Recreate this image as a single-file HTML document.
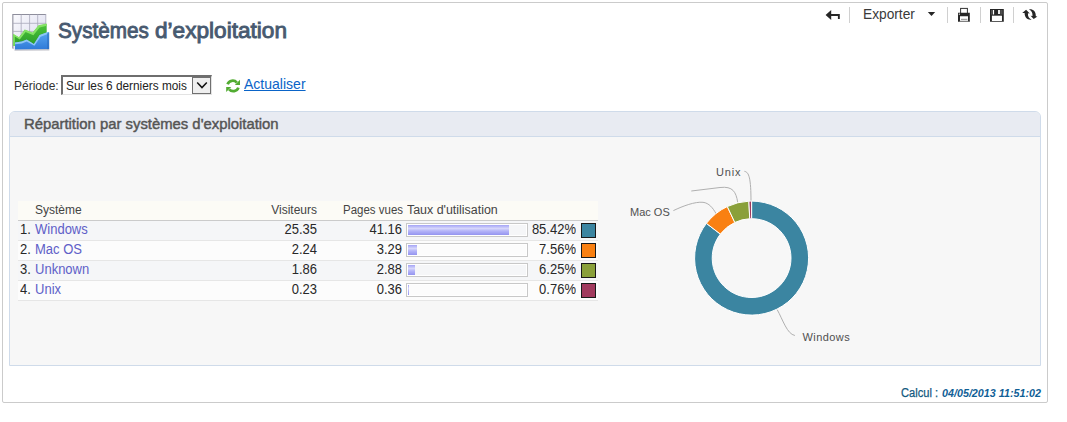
<!DOCTYPE html>
<html><head><meta charset="utf-8">
<style>
html,body{margin:0;padding:0;background:#fff;width:1067px;height:422px;overflow:hidden;font-family:"Liberation Sans",sans-serif;}
.a{position:absolute;}
#outer{left:2px;top:2px;width:1044px;height:399px;border:1px solid #cbcbcb;border-radius:2px;box-sizing:content-box;}
#title,#title2{left:58px;top:18px;font-size:22px;font-weight:normal;-webkit-text-stroke:0.9px #485a70;color:#485a70;white-space:nowrap;line-height:26px;transform-origin:0 0;}
#title{transform:scaleX(0.94);}
#title2{left:155px;transform:scaleX(1.028);}
.tb{font-size:13.7px;color:#3a3a3a;white-space:nowrap;}
.sep{width:1px;background:#d0d0d0;top:7px;height:16px;}
#periode{left:14px;top:79px;font-size:12px;color:#333;line-height:14px;}
#sel{left:61px;top:75px;width:151px;height:20px;box-sizing:border-box;border-top:2px solid #6e6e6e;border-left:2px solid #6e6e6e;border-right:1px solid #e3e3e3;border-bottom:1px solid #e3e3e3;background:#fff;}
#seltxt{left:66px;top:79px;font-size:12px;color:#222;line-height:14px;white-space:nowrap;transform:scaleX(0.985);transform-origin:0 0;}
#selbtn{left:192px;top:77px;width:19px;height:17px;box-sizing:border-box;border:1px solid #707070;background:#efefef;}
#act{left:244px;top:75px;font-size:15px;color:#0a64c8;text-decoration:underline;line-height:17px;white-space:nowrap;transform:scaleX(0.935);transform-origin:0 0;}
#panel{left:9px;top:111px;width:1032px;height:255px;box-sizing:border-box;border:1px solid #cfdbea;border-radius:6px 6px 0 0;background:#f7f7f7;overflow:hidden;}
#phead{left:0;top:0;width:100%;height:24px;background:#e8ebf2;border-bottom:1px solid #cfdbea;}
#ptitle{left:24px;top:115px;font-size:15px;color:#555;-webkit-text-stroke:0.45px #555;white-space:nowrap;line-height:18px;transform:scaleX(0.99);transform-origin:0 0;}
#calc{left:901px;top:386px;font-size:12px;color:#135a80;-webkit-text-stroke:0.25px #135a80;white-space:nowrap;line-height:14px;transform:scaleX(0.925);transform-origin:0 0;}
#calc2{left:942px;top:387px;font-size:11.5px;font-weight:bold;font-style:italic;color:#0f6096;white-space:nowrap;line-height:13px;transform:scaleX(0.934);transform-origin:0 0;}
.th{font-size:12px;color:#444;white-space:nowrap;line-height:14px;}
.td{font-size:14px;color:#282828;white-space:nowrap;line-height:15px;transform:scaleX(0.929);transform-origin:0 0;}
.tr{text-align:right;transform-origin:100% 0;}
.lk{color:#6060c8;}
.bar{width:122px;height:14px;box-sizing:border-box;border:1px solid #c8c8c8;box-shadow:inset 0 0 0 1px #fff;}
.fill{height:10px;background:linear-gradient(#a4a4f6,#d6d6fb 35%,#b4b4f8 60%,#9494f0);}
.sw{width:15px;height:15px;box-sizing:border-box;border:1px solid #1a1a1a;}
</style></head><body>
<div id="outer" class="a"></div>

<!-- icon -->
<svg class="a" style="left:10px;top:12px" width="42" height="42" viewBox="10 12 42 42">
<defs>
<linearGradient id="gg" x1="0" y1="0" x2="1" y2="1"><stop offset="0" stop-color="#fbfbfe"/><stop offset="1" stop-color="#d8d8ec"/></linearGradient>
<linearGradient id="bl" x1="0" y1="0" x2="0" y2="1"><stop offset="0" stop-color="#58a6f0"/><stop offset="1" stop-color="#2f7ad8"/></linearGradient>
<linearGradient id="gr" x1="0" y1="0" x2="0" y2="1"><stop offset="0" stop-color="#4cc43a"/><stop offset="1" stop-color="#2a9c2a"/></linearGradient>
</defs>
<path d="M12.5 14 L46 14 L46.2 45 L15 49.5 L12.5 48 Z" fill="url(#gg)"/>
<path d="M12.3 14 L46 14 L46 15 L13.4 15 L13.4 49.2 L12.3 48.2 Z" fill="#8e8e9c"/>
<g stroke="#a8a8ba" stroke-width="0.8" fill="none">
<path d="M21.2 14.5 V45 M29.6 14.5 V45 M37.7 14.5 V45 M45.8 14 V40"/>
<path d="M13 23.3 H46 M13 31.4 H46"/>
</g>
<path d="M13.2 34.2 L19 37.6 L24.8 29.8 L32.6 33 L38.5 25.7 L46.6 24 L46.8 46 L13.2 46 Z" fill="url(#gr)"/>
<path d="M13.2 33.8 L19 37.2 L24.8 29.4 L32.6 32.6 L38.5 25.3 L46.6 23.6 L46.8 25.8 L39.6 27.6 L33.4 35.2 L25.6 32 L19.8 39.6 L14.8 36.4 L14.8 46 L13.2 46 Z" fill="#84e264"/>
<path d="M15 42.6 L21.8 41.6 L26.7 39.8 L33.9 44.2 L39.6 35.2 L48.3 32 L49.1 32.6 L49.1 49 L15 49.5 Z" fill="url(#bl)"/>
<path d="M15 42.4 L21.8 41.4 L26.7 39.6 L33.9 44 L39.6 35 L48.3 31.8 L48.3 33.8 L40.6 36.8 L34.4 45.8 L26.7 41.6 L21.8 43.4 L15 44.2 Z" fill="#8ec6f6"/>
<path d="M47 33 L49.2 32.4 L49.2 49 L47 49.3 Z" fill="#2a68b8" opacity="0.5"/>
<path d="M14.5 49.4 L49.2 49 L49.4 50.4 L14.5 50.8 Z" fill="#7a7a8a" opacity="0.45"/>
</svg>
<div id="title" class="a">Systèmes</div><div id="title2" class="a">d’exploitation</div>

<!-- toolbar -->
<div class="a sep" style="left:849px"></div>
<div class="a sep" style="left:947px"></div>
<div class="a sep" style="left:980px"></div>
<div class="a sep" style="left:1013px"></div>
<div class="a tb" style="left:863px;top:5px;line-height:18px;font-size:14.5px;transform:scaleX(0.947);transform-origin:0 0">Exporter</div>
<svg class="a" style="left:815px;top:0px" width="235" height="30" viewBox="815 0 235 30">
<g fill="#262626">
<path d="M825.6 15 L831.2 10 L831.2 13.9 L839.8 13.9 L839.8 18.9 L837.9 18.9 L837.9 15.9 L831.2 15.9 L831.2 20 Z"/>
<path d="M927.8 12 L935.2 12 L931.5 15.9 Z"/>
</g>
<g>
<rect x="960.6" y="8.4" width="6.8" height="5.6" fill="#fff" stroke="#333" stroke-width="1"/>
<path d="M958 12.8 H969.8 V21.8 H958 Z M960 16.5 V20.8 H968 V16.5 Z" fill="#262626" fill-rule="evenodd"/>
<rect x="960" y="16.5" width="8" height="4.3" fill="#fff"/>
<rect x="961" y="18.8" width="6.4" height="1.1" fill="#9a9a9a"/>
<rect x="959.6" y="20.8" width="8.8" height="1" fill="#8a8a8a"/>
<rect x="958.8" y="13.6" width="1.1" height="1.1" fill="#fff"/>
<path d="M990 8.9 H1003.8 V21.7 H990 Z M991.9 15.8 V20.9 H1001.9 V15.8 Z M993 10 V14.5 H994.1 V10 Z M998.1 10 V13.9 H999.9 V10 Z" fill="#262626" fill-rule="evenodd"/>
<rect x="991.2" y="10" width="1.6" height="4.6" fill="#5a5a5a"/><rect x="1000.2" y="10" width="2.4" height="4.6" fill="#505050"/>
<path d="M992 15.9 H1001.8 V20.7 H992 Z" fill="#fff"/>
</g>
<g fill="#262626">
<path d="M1022.2 12.9 L1026.1 9.8 L1029.8 13.4 L1027.9 13.3 C1027.8 16.4 1028.9 18.4 1031.6 19.7 C1027.6 20.2 1024.6 17.8 1024.6 13.1 Z"/>
<path d="M1028.9 9.3 C1033 8.8 1036 11.4 1035.8 16.2 L1037.4 16.5 L1033.7 19.1 L1030.6 15.8 L1032.5 15.9 C1032.7 12.9 1031.6 10.6 1028.9 9.3 Z"/>
</g>
</svg>

<div id="periode" class="a">Période:</div>
<div id="sel" class="a"></div>
<div id="seltxt" class="a">Sur les 6 derniers mois</div>
<div id="selbtn" class="a"></div>
<svg class="a" style="left:192px;top:77px" width="20" height="18" viewBox="192 77 20 18">
<path d="M197.2 82.4 L202 87.6 L206.8 82.4" fill="none" stroke="#111" stroke-width="1.5"/>
</svg>
<svg class="a" style="left:224px;top:77px" width="18" height="18" viewBox="224 77 18 18">
<g fill="none" stroke="#52ac32" stroke-width="2.8">
<path d="M227.6 84.3 A5.4 5.4 0 0 1 236.8 82.6"/>
<path d="M238.4 87.6 A5.4 5.4 0 0 1 229.2 89.3"/>
</g>
<g fill="#52ac32">
<path d="M240 79.8 L240 85.1 L234.8 85.1 Z"/>
<path d="M226.2 86.9 L231.3 86.9 L226.2 92.1 Z"/>
</g>
</svg>
<div id="act" class="a">Actualiser</div>

<div id="panel" class="a"><div id="phead" class="a"></div></div>
<div id="ptitle" class="a">Répartition par systèmes d'exploitation</div>

<div class="a" style="left:18px;top:201px;width:580px;height:19px;background:#fcfbf6"></div>
<div class="a" style="left:18px;top:220px;width:580px;height:1px;background:#cbcbcb"></div>
<div class="a th" style="left:35px;top:203px">Système</div>
<div class="a th" style="left:250px;top:203px;width:67px;text-align:right">Visiteurs</div>
<div class="a th" style="left:330px;top:203px;width:73px;text-align:right;transform:scaleX(0.955);transform-origin:100% 0">Pages vues</div>
<div class="a th" style="left:407px;top:203px;transform:scaleX(1.035);transform-origin:0 0">Taux d'utilisation</div>
<div class="a" style="left:18px;top:221px;width:580px;height:19px;background:#f5f6f8"></div>
<div class="a" style="left:18px;top:240px;width:580px;height:1px;background:#e6e6e6"></div>
<div class="a td" style="left:20px;top:222px">1.</div>
<div class="a td lk" style="left:35px;top:222px">Windows</div>
<div class="a td tr" style="left:250px;top:222px;width:67px">25.35</div>
<div class="a td tr" style="left:330px;top:222px;width:72px">41.16</div>
<div class="a bar" style="left:406px;top:223px"></div>
<div class="a fill" style="left:408px;top:225px;width:100.8px"></div>
<div class="a td tr" style="left:520px;top:222px;width:56px">85.42%</div>
<div class="a sw" style="left:581px;top:223px;background:#3b85a1"></div>
<div class="a" style="left:18px;top:241px;width:580px;height:19px;background:#fcfcfc"></div>
<div class="a" style="left:18px;top:260px;width:580px;height:1px;background:#e6e6e6"></div>
<div class="a td" style="left:20px;top:242px">2.</div>
<div class="a td lk" style="left:35px;top:242px">Mac OS</div>
<div class="a td tr" style="left:250px;top:242px;width:67px">2.24</div>
<div class="a td tr" style="left:330px;top:242px;width:72px">3.29</div>
<div class="a bar" style="left:406px;top:243px"></div>
<div class="a fill" style="left:408px;top:245px;width:8.9px"></div>
<div class="a td tr" style="left:520px;top:242px;width:56px">7.56%</div>
<div class="a sw" style="left:581px;top:243px;background:#f98012"></div>
<div class="a" style="left:18px;top:261px;width:580px;height:19px;background:#f5f6f8"></div>
<div class="a" style="left:18px;top:280px;width:580px;height:1px;background:#e6e6e6"></div>
<div class="a td" style="left:20px;top:262px">3.</div>
<div class="a td lk" style="left:35px;top:262px">Unknown</div>
<div class="a td tr" style="left:250px;top:262px;width:67px">1.86</div>
<div class="a td tr" style="left:330px;top:262px;width:72px">2.88</div>
<div class="a bar" style="left:406px;top:263px"></div>
<div class="a fill" style="left:408px;top:265px;width:7.4px"></div>
<div class="a td tr" style="left:520px;top:262px;width:56px">6.25%</div>
<div class="a sw" style="left:581px;top:263px;background:#8aa03a"></div>
<div class="a" style="left:18px;top:281px;width:580px;height:19px;background:#fcfcfc"></div>
<div class="a" style="left:18px;top:300px;width:580px;height:1px;background:#e6e6e6"></div>
<div class="a td" style="left:20px;top:282px">4.</div>
<div class="a td lk" style="left:35px;top:282px">Unix</div>
<div class="a td tr" style="left:250px;top:282px;width:67px">0.23</div>
<div class="a td tr" style="left:330px;top:282px;width:72px">0.36</div>
<div class="a bar" style="left:406px;top:283px"></div>
<div class="a fill" style="left:408px;top:285px;width:1px"></div>
<div class="a td tr" style="left:520px;top:282px;width:56px">0.76%</div>
<div class="a sw" style="left:581px;top:283px;background:#a13a5e"></div>
<svg class="a" style="left:600px;top:140px" width="300" height="220" viewBox="600 140 300 220">
<g fill="none" stroke="#b0b0b0" stroke-width="1">
<path d="M744.4 171.3 C749 172 751 178 751 202.3"/>
<path d="M691.3 191 L720 187.5 C733 186 736 192 737.7 202.3"/>
<path d="M673.4 210.6 C683 206 695 201.5 703 202.3 C709 203 713 208 716.2 213.9"/>
<path d="M777.1 309.5 C783 320 787 334 794.9 335.5"/>
</g>
<path d="M751.60 201.10 A57.0 57.0 0 1 1 706.40 223.37 L720.36 234.09 A39.4 39.4 0 1 0 751.60 218.70 Z" fill="#3b85a1" stroke="#fff" stroke-width="1" stroke-linejoin="round"/><path d="M706.40 223.37 A57.0 57.0 0 0 1 727.30 206.54 L734.80 222.46 A39.4 39.4 0 0 0 720.36 234.09 Z" fill="#f98012" stroke="#fff" stroke-width="1" stroke-linejoin="round"/><path d="M727.30 206.54 A57.0 57.0 0 0 1 748.88 201.16 L749.72 218.74 A39.4 39.4 0 0 0 734.80 222.46 Z" fill="#8aa03a" stroke="#fff" stroke-width="1" stroke-linejoin="round"/><path d="M748.88 201.16 A57.0 57.0 0 0 1 751.60 201.10 L751.60 218.70 A39.4 39.4 0 0 0 749.72 218.74 Z" fill="#a13a5e" stroke="#fff" stroke-width="1" stroke-linejoin="round"/>
<g font-family="Liberation Sans" font-size="11" fill="#505050">
<text x="716" y="176" letter-spacing="0.8">Unix</text>
<text x="630" y="216">Mac OS</text>
<text x="802.5" y="341" letter-spacing="0.42">Windows</text>
</g>
</svg>
<div id="calc" class="a">Calcul :</div><div id="calc2" class="a">04/05/2013 11:51:02</div>
</body></html>
